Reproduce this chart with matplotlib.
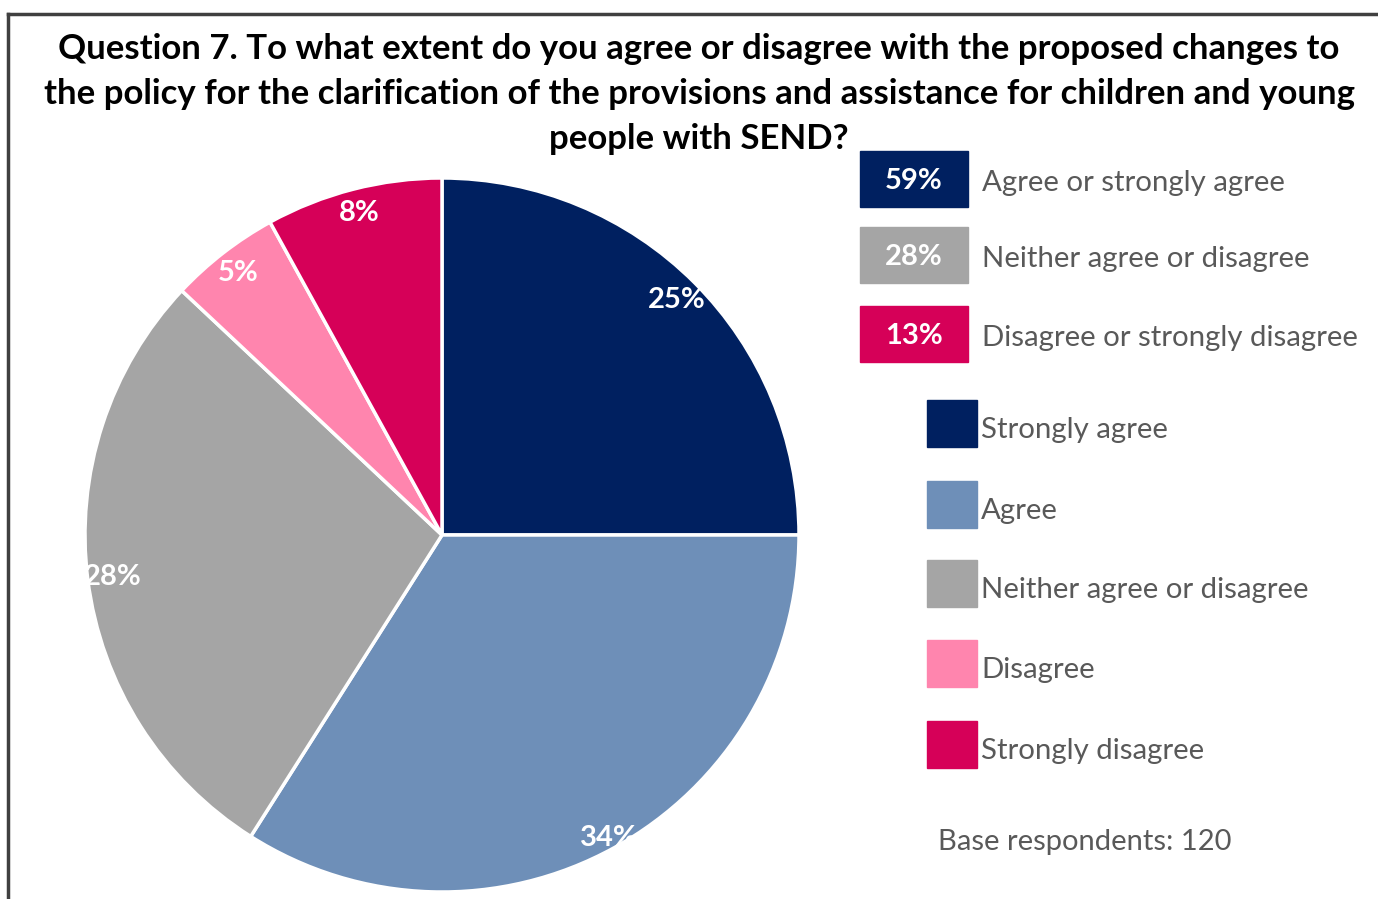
import matplotlib.pyplot as plt
from matplotlib.patches import Rectangle

W, H = 1378, 899

# data
labels = ['Strongly agree', 'Agree', 'Neither agree or disagree', 'Disagree', 'Strongly disagree']
values = [25, 34, 28, 5, 8]
colors = ['#002060', '#6E8FB8', '#A5A5A5', '#FF85AE', '#D60058']

summary_labels = ['Agree or strongly agree', 'Neither agree or disagree', 'Disagree or strongly disagree']
summary_values = [59, 28, 13]
summary_colors = ['#002060', '#A5A5A5', '#D60058']

title = ('Question 7. To what extent do you agree or disagree with the proposed changes to\n'
         'the policy for the clarification of the provisions and assistance for children and young\n'
         'people with SEND?')
base_text = 'Base respondents: 120'

plt.rcParams['font.family'] = ['Lato', 'DejaVu Sans']
text_grey = '#595959'

fig = plt.figure(figsize=(W / 100, H / 100), dpi=100)


def fx(x):
    return x / W


def fy(y):
    return 1 - y / H


# border (left and top visible)
fig.add_artist(plt.Line2D([fx(8), fx(8)], [fy(14), 0], color='#404040', lw=2.5))
fig.add_artist(plt.Line2D([fx(8), 1], [fy(14), fy(14)], color='#404040', lw=2.5))

fig.text(fx(699), fy(94), title, ha='center', va='center', fontsize=25,
         fontweight='bold', linespacing=1.5, color='black')

# pie
cx, cy, r = 442, 535, 357
ax = fig.add_axes([fx(cx - r), fy(cy + r), 2 * r / W, 2 * r / H])
wedges, texts = ax.pie(values, colors=colors, startangle=90, counterclock=False,
                       labels=[f'{v}%' for v in values], labeldistance=0.93,
                       wedgeprops=dict(edgecolor='white', linewidth=2.5),
                       textprops=dict(color='white', fontsize=21, fontweight='bold'))
# the 34% label sits a little further out in the original
label_dist = [0.93, 0.97, 0.93, 0.93, 0.93]
for t, d in zip(texts, label_dist):
    x, y = t.get_position()
    t.set_position((x * d / 0.93, y * d / 0.93))
    t.set_ha('center')
    t.set_va('center')
ax.set_xlim(-1, 1)
ax.set_ylim(-1, 1)
ax.set_aspect('auto')
ax.axis('off')

# summary legend
box_tops = [151, 227, 306]
for top, v, lab, c in zip(box_tops, summary_values, summary_labels, summary_colors):
    fig.add_artist(Rectangle((fx(860), fy(top + 56)), 108 / W, 56 / H, color=c))
    fig.text(fx(914), fy(top + 30), f'{v}%', ha='center', va='center', color='white',
             fontsize=21, fontweight='bold')
    fig.text(fx(982), fy(top + 32), lab, ha='left', va='center', color=text_grey, fontsize=21.2)

# category legend
sq_tops = [400, 481, 560, 640, 721]
for top, lab, c in zip(sq_tops, labels, colors):
    fig.add_artist(Rectangle((fx(927), fy(top + 47)), 50 / W, 47 / H, color=c))
    fig.text(fx(981), fy(top + 30), lab, ha='left', va='center', color=text_grey, fontsize=21.2)

fig.text(fx(938), fy(842), base_text, ha='left', va='center', color=text_grey, fontsize=21)

fig.savefig('out.png', dpi=100)
